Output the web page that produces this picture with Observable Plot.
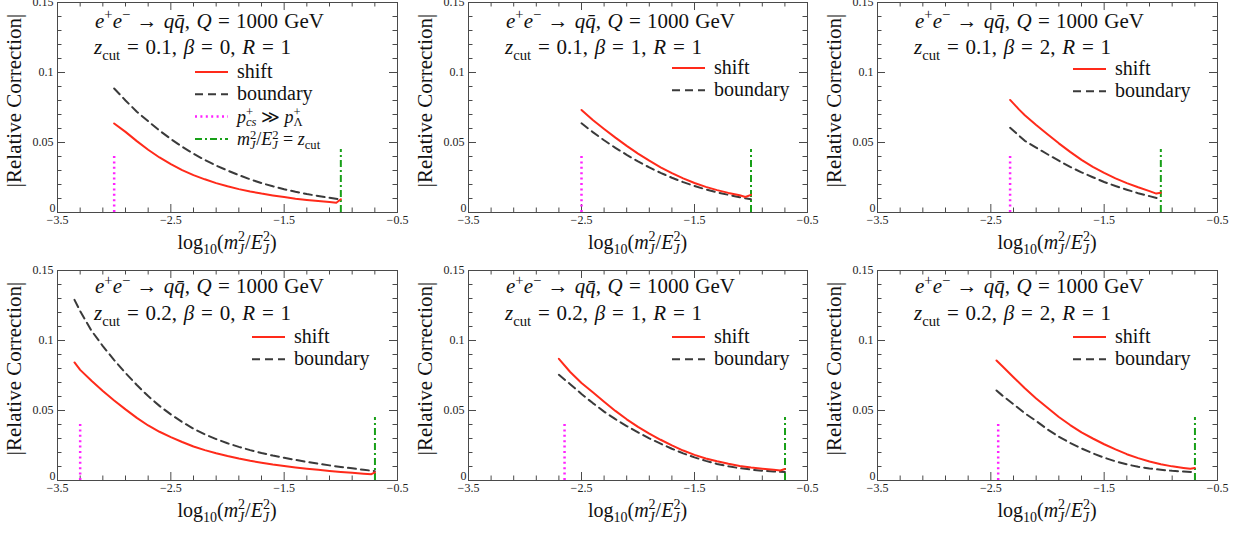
<!DOCTYPE html>
<html><head><meta charset="utf-8">
<script src="https://cdn.jsdelivr.net/npm/d3@7"></script>
<script src="https://cdn.jsdelivr.net/npm/@observablehq/plot@0.6"></script>
<style>
html,body{margin:0;padding:0;background:#fff;}
#wrap{position:relative;width:1243px;height:533px;overflow:hidden;background:#fff;}
#wrap > svg{position:absolute;}
</style></head><body><div id="wrap"></div>
<script>
// ---------------- DATA ----------------
const xTickLabels = [-3.5, -2.5, -1.5, -0.5];
const xMinorTicks = [-3.3,-3.1,-2.9,-2.7,-2.3,-2.1,-1.9,-1.7,-1.3,-1.1,-0.9,-0.7];
const yTickLabels = [0, 0.05, 0.1, 0.15];
const yMinorTicks = [0.01,0.02,0.03,0.04,0.06,0.07,0.08,0.09,0.11,0.12,0.13,0.14];

const panelZcut = ["0.1","0.1","0.1","0.2","0.2","0.2"];
const panelBeta = ["0","1","2","0","1","2"];
const pcsLineX  = [-3.0, -2.5, -2.33, -3.3, -2.65, -2.435];   // p+cs >> p+Lambda
const zcutLineX = [-1.0, -1.0, -1.0, -0.699, -0.699, -0.699]; // m^2/E^2 = zcut

// panel 1: zcut 0.1, beta 0
const p1ShiftX = [-3.0,-2.9,-2.8,-2.7,-2.6,-2.5,-2.4,-2.3,-2.2,-2.1,-2.0,-1.9,-1.8,-1.7,-1.6,-1.5,-1.4,-1.3,-1.2,-1.1,-1.04,-1.0];
const p1ShiftY = [0.0636,0.0576,0.051,0.0448,0.0393,0.0345,0.0303,0.0267,0.0237,0.021,0.0187,0.0167,0.015,0.0135,0.0122,0.011,0.0099,0.009,0.0082,0.0075,0.0070,0.0095];
const p1BoundX = [-3.0,-2.9,-2.8,-2.7,-2.6,-2.5,-2.4,-2.3,-2.2,-2.1,-2.0,-1.9,-1.8,-1.7,-1.6,-1.5,-1.4,-1.3,-1.2,-1.1,-1.0];
const p1BoundY = [0.0886,0.080,0.072,0.0652,0.0585,0.0525,0.047,0.042,0.0375,0.0335,0.030,0.0267,0.0237,0.021,0.0187,0.0166,0.0148,0.0132,0.0118,0.0105,0.0093];

// panel 2: zcut 0.1, beta 1
const p2ShiftX = [-2.5,-2.4,-2.3,-2.2,-2.1,-2.0,-1.9,-1.8,-1.7,-1.6,-1.5,-1.4,-1.3,-1.2,-1.1,-1.05,-1.0];
const p2ShiftY = [0.0732,0.0661,0.0597,0.0535,0.0476,0.0421,0.0370,0.0323,0.0281,0.0244,0.0211,0.0183,0.0160,0.0140,0.0123,0.0111,0.0126];
const p2BoundX = [-2.5,-2.4,-2.3,-2.2,-2.1,-2.0,-1.9,-1.8,-1.7,-1.6,-1.5,-1.4,-1.3,-1.2,-1.1,-1.0];
const p2BoundY = [0.0637,0.0574,0.0516,0.0462,0.0412,0.0365,0.0322,0.0283,0.0248,0.0217,0.0189,0.0165,0.0144,0.0126,0.0109,0.0094];

// panel 3: zcut 0.1, beta 2
const p3ShiftX = [-2.33,-2.25,-2.2,-2.1,-2.0,-1.9,-1.8,-1.7,-1.6,-1.5,-1.4,-1.3,-1.2,-1.1,-1.04,-1.0];
const p3ShiftY = [0.0804,0.0735,0.0695,0.0625,0.0559,0.0494,0.0433,0.0376,0.0326,0.0283,0.0244,0.0210,0.0180,0.0153,0.0135,0.0141];
const p3BoundX = [-2.33,-2.2,-2.1,-2.0,-1.9,-1.8,-1.7,-1.6,-1.5,-1.4,-1.3,-1.2,-1.1,-1.0];
const p3BoundY = [0.0605,0.0512,0.0463,0.0416,0.0370,0.0326,0.0287,0.0252,0.0218,0.0189,0.0163,0.0138,0.0117,0.0095];

// panel 4: zcut 0.2, beta 0
const p4ShiftX = [-3.35,-3.3,-3.2,-3.1,-3.0,-2.9,-2.8,-2.7,-2.6,-2.5,-2.4,-2.3,-2.2,-2.1,-2.0,-1.9,-1.8,-1.7,-1.6,-1.5,-1.4,-1.3,-1.2,-1.1,-1.0,-0.9,-0.8,-0.73,-0.7];
const p4ShiftY = [0.0843,0.0790,0.0712,0.0640,0.0572,0.0508,0.0447,0.0393,0.0348,0.031,0.0275,0.0243,0.0217,0.0195,0.0175,0.0157,0.0141,0.0127,0.0114,0.0103,0.0093,0.0084,0.0076,0.0068,0.0061,0.0055,0.0049,0.0045,0.0058];
const p4BoundX = [-3.35,-3.3,-3.2,-3.1,-3.0,-2.9,-2.8,-2.7,-2.6,-2.5,-2.4,-2.3,-2.2,-2.1,-2.0,-1.9,-1.8,-1.7,-1.6,-1.5,-1.4,-1.3,-1.2,-1.1,-1.0,-0.9,-0.8,-0.7];
const p4BoundY = [0.129,0.121,0.107,0.096,0.086,0.0768,0.0682,0.0603,0.0533,0.0472,0.0418,0.037,0.0330,0.0296,0.0266,0.0240,0.0217,0.0196,0.0178,0.0162,0.0147,0.0133,0.012,0.0108,0.0097,0.0087,0.0077,0.0067];

// panel 5: zcut 0.2, beta 1
const p5ShiftX = [-2.7,-2.6,-2.5,-2.4,-2.3,-2.2,-2.1,-2.0,-1.9,-1.8,-1.7,-1.6,-1.5,-1.4,-1.3,-1.2,-1.1,-1.0,-0.9,-0.8,-0.74,-0.7];
const p5ShiftY = [0.0869,0.0775,0.0697,0.0631,0.0563,0.0497,0.0437,0.0383,0.0335,0.0291,0.0251,0.0214,0.0183,0.0157,0.0137,0.0119,0.0104,0.0093,0.0084,0.0076,0.0071,0.0082];
const p5BoundX = [-2.7,-2.6,-2.5,-2.4,-2.3,-2.2,-2.1,-2.0,-1.9,-1.8,-1.7,-1.6,-1.5,-1.4,-1.3,-1.2,-1.1,-1.0,-0.9,-0.8,-0.7];
const p5BoundY = [0.0755,0.0688,0.0618,0.0553,0.0492,0.0438,0.0389,0.0344,0.0301,0.0263,0.0227,0.0194,0.0165,0.0140,0.0118,0.0101,0.0088,0.0078,0.0070,0.0064,0.0060];

// panel 6: zcut 0.2, beta 2
const p6ShiftX = [-2.45,-2.4,-2.3,-2.2,-2.1,-2.0,-1.9,-1.8,-1.7,-1.6,-1.5,-1.4,-1.3,-1.2,-1.1,-1.0,-0.9,-0.8,-0.74,-0.7];
const p6ShiftY = [0.0857,0.0818,0.0738,0.0659,0.0586,0.0519,0.0454,0.0396,0.0344,0.0300,0.0259,0.0222,0.0188,0.016,0.0136,0.0116,0.0101,0.0090,0.0084,0.0090];
const p6BoundX = [-2.45,-2.4,-2.3,-2.2,-2.1,-2.0,-1.9,-1.8,-1.7,-1.6,-1.5,-1.4,-1.3,-1.2,-1.1,-1.0,-0.9,-0.8,-0.7];
const p6BoundY = [0.0643,0.0608,0.0545,0.0480,0.0425,0.0365,0.0313,0.0268,0.0229,0.0194,0.0163,0.0137,0.0115,0.0098,0.0086,0.0077,0.0069,0.0064,0.0060];

const shiftXs = [p1ShiftX,p2ShiftX,p3ShiftX,p4ShiftX,p5ShiftX,p6ShiftX];
const shiftYs = [p1ShiftY,p2ShiftY,p3ShiftY,p4ShiftY,p5ShiftY,p6ShiftY];
const boundXs = [p1BoundX,p2BoundX,p3BoundX,p4BoundX,p5BoundX,p6BoundX];
const boundYs = [p1BoundY,p2BoundY,p3BoundY,p4BoundY,p5BoundY,p6BoundY];

// ---------------- LAYOUT / STYLE ----------------
const FONT = "'Liberation Serif', 'Times New Roman', Times, serif";
const RED = "#ff2a1a", DARK = "#3a3a3a", MAGENTA = "#ff22ff", GREEN = "#18a018", AXIS = "#4a4a4a";
const frameLeft = [57, 468, 877], frameRight = [397, 807, 1217];
const frameTop = [2, 270], frameBottom = [212, 480];
const mL = 57, mR = 13, mT = 2, mB = 53;
const legendLineX = [195, 672, 1073, 252, 672, 1073];
const legendRowY  = [72, 68, 69, 337, 337, 337];
const noteY1 = [27.5, 293], noteY2 = [54, 320];

const wrap = d3.select("#wrap");
const fmt = d => (d < 0 ? "\u2212" : "") + String(Math.abs(d));

for (let i = 0; i < 6; i++) {
  const col = i % 3, row = Math.floor(i / 3);
  const fl = frameLeft[col], fr = frameRight[col], ft = frameTop[row], fb = frameBottom[row];
  const innerW = fr - fl, innerH = fb - ft;
  const W = innerW + mL + mR, H = innerH + mT + mB;
  const shift = shiftXs[i].map((x, j) => ({x, y: shiftYs[i][j]}));
  const bound = boundXs[i].map((x, j) => ({x, y: boundYs[i][j]}));
  const chart = Plot.plot({
    width: W, height: H,
    marginLeft: mL, marginRight: mR, marginTop: mT, marginBottom: mB,
    style: {fontFamily: FONT, fontSize: "12px", color: "#222", background: "none", overflow: "visible"},
    x: {domain: [-3.5, -0.5]},
    y: {domain: [0, 0.15]},
    marks: [
      Plot.tickX(xMinorTicks, {x: d => d, insetTop: innerH - 4.5, stroke: AXIS}),
      Plot.tickX(xMinorTicks, {x: d => d, insetBottom: innerH - 4.5, stroke: AXIS}),
      Plot.tickX(xTickLabels, {x: d => d, insetTop: innerH - 8, stroke: AXIS}),
      Plot.tickX(xTickLabels, {x: d => d, insetBottom: innerH - 8, stroke: AXIS}),
      Plot.tickY(yMinorTicks, {y: d => d, insetRight: innerW - 4.5, stroke: AXIS}),
      Plot.tickY(yMinorTicks, {y: d => d, insetLeft: innerW - 4.5, stroke: AXIS}),
      Plot.tickY(yTickLabels, {y: d => d, insetRight: innerW - 8, stroke: AXIS}),
      Plot.tickY(yTickLabels, {y: d => d, insetLeft: innerW - 8, stroke: AXIS}),
      Plot.axisX(xTickLabels, {anchor: "bottom", tickSize: 0, tickPadding: 3, tickFormat: fmt, label: null}),
      Plot.axisY(yTickLabels.slice(1), {anchor: "left", tickSize: 0, tickPadding: 4, tickFormat: fmt, label: null}),
      Plot.axisY(yTickLabels.slice(0, 1), {anchor: "left", tickSize: 0, tickPadding: 2, dy: -4, tickFormat: fmt, label: null}),
      Plot.ruleX([pcsLineX[i]], {x: d => d, y1: 0, y2: 0.042, stroke: MAGENTA, strokeWidth: 2.5, strokeDasharray: "2,3.4"}),
      Plot.ruleX([zcutLineX[i]], {x: d => d, y1: 0, y2: 0.045, stroke: GREEN, strokeWidth: 2, strokeDasharray: "7,3,2,3"}),
      Plot.line(bound, {x: "x", y: "y", stroke: DARK, strokeWidth: 2, strokeDasharray: "8,5"}),
      Plot.line(shift, {x: "x", y: "y", stroke: RED, strokeWidth: 2}),
      Plot.frame({stroke: AXIS, strokeWidth: 1})
    ]
  });
  chart.style.left = (fl - mL) + "px";
  chart.style.top = (ft - mT) + "px";
  wrap.node().appendChild(chart);
}

// ---------------- TEXT OVERLAY ----------------
const ov = wrap.append("svg").attr("width", 1243).attr("height", 533)
  .style("left", "0px").style("top", "0px").style("overflow", "visible");

function rich(parent, x, y, parts, size, opts = {}) {
  const t = parent.append("text").attr("x", x).attr("y", y)
    .attr("font-family", FONT).style("font-size", size + "px").attr("fill", "#111");
  let off = 0, pend = 0;
  const SUP = -(opts.sup || 0.4) * size, SUB = (opts.sub || 0.27) * size, SM = 0.7 * size;
  function span(txt, target, italic, small) {
    const s = t.append("tspan").text(txt);
    const dy = target - off; off = target;
    if (dy) s.attr("dy", dy);
    if (pend) { s.attr("dx", pend); pend = 0; }
    if (italic) s.style("font-style", "italic");
    if (small) s.style("font-size", SM + "px");
    return s;
  }
  for (const [txt, kind, extra] of parts) {
    if (kind === "n") span(txt, 0, false, false);
    else if (kind === "i") span(txt, 0, true, false);
    else if (kind === "sup") span(txt, SUP, false, true);
    else if (kind === "sub") span(txt, SUB, false, true);
    else if (kind === "ss") {
      const a = span(txt, SUB, extra.it, true);
      const la = a.node().getComputedTextLength();
      const b = span(extra.sup, SUP, false, true);
      b.attr("dx", -la);
      const lb = b.node().getComputedTextLength();
      if (la > lb) pend = la - lb;
    }
  }
  if (opts.fit) {
    const w = t.node().getBBox().width;
    const n = parts.reduce((s, p) => s + (p[0].match(/ /g) || []).length, 0);
    if (n) t.style("word-spacing", ((opts.fit - w) / n) + "px");
  }
  if (opts.middle) { const w = t.node().getBBox().width; t.attr("x", x - w / 2); }
  return t;
}

const line1 = [["e","i"],["+","sup"],["e","i"],["\u2212","sup"],[" \u2192 ","n"],["q","i"],["q\u0304","i"],[", ","n"],["Q","i"],[" = 1000 GeV","n"]];
const mjLabel = [["m","i"],["J","ss",{it:true,sup:"2"}],["/","n"],["E","i"],["J","ss",{it:true,sup:"2"}]];

for (let i = 0; i < 6; i++) {
  const col = i % 3, row = Math.floor(i / 3);
  const fl = frameLeft[col], fr = frameRight[col], ft = frameTop[row], fb = frameBottom[row];
  rich(ov, fl + 38, noteY1[row], line1, 21, {fit: 229});
  rich(ov, fl + 37, noteY2[row], [["z","i"],["cut","sub"],[" = " + panelZcut[i] + ", ","n"],["\u03b2","i"],[" = " + panelBeta[i] + ", ","n"],["R","i"],[" = 1","n"]], 21, {fit: 198});
  rich(ov, (fl + fr) / 2, fb + 37, [["log","n"],["10","sub"],["(","n"]].concat(mjLabel).concat([[")","n"]]), 20, {middle: true});
  ov.append("text").attr("transform", `translate(${fl - 36},${(ft + fb) / 2 - 6.5}) rotate(-90)`)
    .attr("text-anchor", "middle").attr("font-family", FONT).style("font-size", "21px").attr("fill", "#111")
    .text("|Relative Correction|");
  const lx = legendLineX[i], ly = legendRowY[i];
  const entries = [
    {stroke: RED, dash: null, w: 2, label: [["shift","n"]]},
    {stroke: DARK, dash: "8,5", w: 2, label: [["boundary","n"]]}
  ];
  if (i === 0) {
    entries.push({stroke: MAGENTA, dash: "2,3.4", w: 2.5, label: [["p","i"],["cs","ss",{it:true,sup:"+"}],[" \u226b ","n"],["p","i"],["\u039b","ss",{it:false,sup:"+"}]], size: 18, tight: true});
    entries.push({stroke: GREEN, dash: "7,3,2,3", w: 2, label: mjLabel.concat([[" = ","n"],["z","i"],["cut","sub"]]), size: 18, tight: true});
  }
  entries.forEach((e, k) => {
    const y = ly + k * 22.3;
    const ln = ov.append("line").attr("x1", lx).attr("x2", lx + 33).attr("y1", y).attr("y2", y)
      .attr("stroke", e.stroke).attr("stroke-width", e.w);
    if (e.dash) ln.attr("stroke-dasharray", e.dash);
    rich(ov, lx + 42, y + 6, e.label, e.size || 20, e.tight ? {sup: 0.34, sub: 0.2} : {});
  });
}
</script>
</body></html>
